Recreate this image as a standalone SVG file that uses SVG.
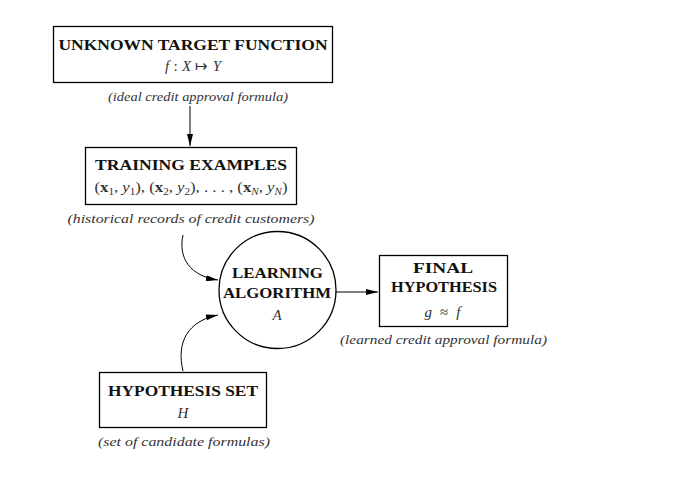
<svg xmlns="http://www.w3.org/2000/svg" width="683" height="479" viewBox="0 0 683 479">
<defs>
<style>
.box{fill:none;stroke:#000;stroke-width:1.3}
.ttl{font-family:"Liberation Serif",serif;font-weight:bold;font-size:15px;fill:#111;text-anchor:middle}
.math{font-family:"Liberation Serif",serif;font-size:15px;fill:#333;text-anchor:middle}
.cap{font-family:"Liberation Serif",serif;font-style:italic;font-size:13px;fill:#333;text-anchor:middle}
.conn{fill:none;stroke:#000;stroke-width:1}
</style>
<marker id="ah" viewBox="0 0 12 6" refX="12" refY="3" markerWidth="12" markerHeight="6" markerUnits="userSpaceOnUse" orient="auto">
<path d="M0,0 L12,3 L0,6 Z" fill="#000"/>
</marker>
</defs>
<rect width="683" height="479" fill="#fff"/>
<g id="connectors">
<line class="conn" x1="190" y1="106" x2="190" y2="146" marker-end="url(#ah)"/>
<path class="conn" d="M183,235 C178,258 190,276 218,280" marker-end="url(#ah)"/>
<path class="conn" d="M183,371 C176,342 188,321 218,315" marker-end="url(#ah)"/>
<line class="conn" x1="336" y1="292" x2="378" y2="292" marker-end="url(#ah)"/>
</g>
<g id="target">
<rect class="box" x="53.5" y="26.5" width="279" height="56"/>
<text class="ttl" x="193" y="50" textLength="269" lengthAdjust="spacingAndGlyphs">UNKNOWN TARGET FUNCTION</text>
<text class="math" x="193" y="71" textLength="56" lengthAdjust="spacing"><tspan font-style="italic">f</tspan> : <tspan font-style="italic">X</tspan> ↦ <tspan font-style="italic">Y</tspan></text>
<text class="cap" x="198" y="101" textLength="180" lengthAdjust="spacingAndGlyphs">(ideal credit approval formula)</text>
</g>
<g id="training">
<rect class="box" x="85.5" y="147.5" width="211" height="57"/>
<text class="ttl" x="191" y="170" textLength="192" lengthAdjust="spacingAndGlyphs">TRAINING EXAMPLES</text>
<text class="math" x="191" y="192" textLength="193" lengthAdjust="spacingAndGlyphs">(<tspan font-weight="bold">x</tspan><tspan font-size="10" dy="3">1</tspan><tspan dy="-3">, </tspan><tspan font-style="italic">y</tspan><tspan font-size="10" dy="3">1</tspan><tspan dy="-3">), (</tspan><tspan font-weight="bold">x</tspan><tspan font-size="10" dy="3">2</tspan><tspan dy="-3">, </tspan><tspan font-style="italic">y</tspan><tspan font-size="10" dy="3">2</tspan><tspan dy="-3">), . . . , (</tspan><tspan font-weight="bold">x</tspan><tspan font-size="10" font-style="italic" dy="3">N</tspan><tspan dy="-3">, </tspan><tspan font-style="italic">y</tspan><tspan font-size="10" font-style="italic" dy="3">N</tspan><tspan dy="-3">)</tspan></text>
<text class="cap" x="191" y="223" textLength="247" lengthAdjust="spacingAndGlyphs">(historical records of credit customers)</text>
</g>
<g id="algorithm">
<circle cx="277.5" cy="290" r="58.5" fill="none" stroke="#000" stroke-width="1.3"/>
<text class="ttl" x="277.5" y="278" textLength="91" lengthAdjust="spacingAndGlyphs">LEARNING</text>
<text class="ttl" x="277" y="298" textLength="108" lengthAdjust="spacingAndGlyphs">ALGORITHM</text>
<text class="math" x="277" y="320" font-style="italic">A</text>
</g>
<g id="final">
<rect class="box" x="379.5" y="255.5" width="128" height="71"/>
<text class="ttl" x="443" y="273" textLength="60" lengthAdjust="spacingAndGlyphs">FINAL</text>
<text class="ttl" x="444" y="292" textLength="106" lengthAdjust="spacingAndGlyphs">HYPOTHESIS</text>
<text class="math" x="442.5" y="317" textLength="36" lengthAdjust="spacing"><tspan font-style="italic">g</tspan> ≈ <tspan font-style="italic">f</tspan></text>
<text class="cap" x="443.5" y="344" textLength="207" lengthAdjust="spacingAndGlyphs">(learned credit approval formula)</text>
</g>
<g id="hypset">
<rect class="box" x="99.5" y="372.5" width="167" height="55"/>
<text class="ttl" x="183" y="396" textLength="150" lengthAdjust="spacingAndGlyphs">HYPOTHESIS SET</text>
<text class="math" x="183" y="418" font-style="italic">H</text>
<text class="cap" x="184" y="446" textLength="172" lengthAdjust="spacingAndGlyphs">(set of candidate formulas)</text>
</g>
</svg>
